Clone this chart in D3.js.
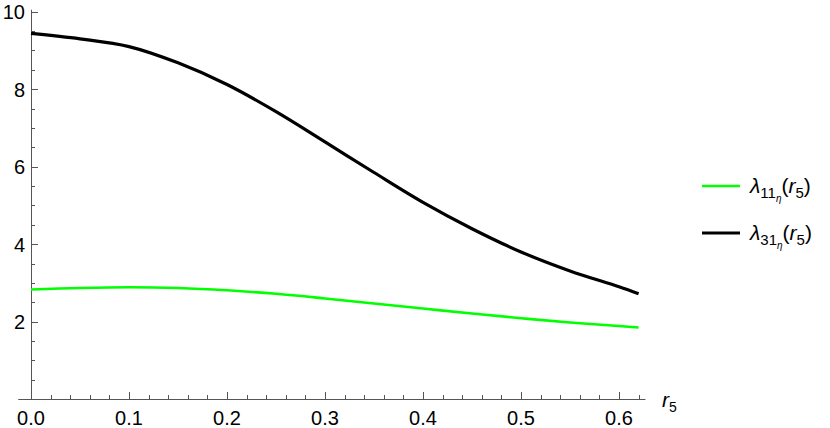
<!DOCTYPE html>
<html>
<head>
<meta charset="utf-8">
<script src="https://cdn.jsdelivr.net/npm/d3@7"></script>
<style>
  body { margin: 0; background: #fff; }
  text { font-family: "Liberation Sans", Arial, sans-serif; }
</style>
</head>
<body>
<svg id="chart" width="830" height="428"></svg>
<script>
// r5 sample points and the two curves
var r5 = [0, 0.05, 0.1, 0.15, 0.2, 0.25, 0.3, 0.35, 0.4, 0.45, 0.5, 0.55, 0.6, 0.62];
var lambda11 = [2.83, 2.87, 2.89, 2.87, 2.81, 2.72, 2.60, 2.47, 2.34, 2.21, 2.09, 1.98, 1.89, 1.85];
var lambda31 = [9.44, 9.30, 9.10, 8.68, 8.12, 7.42, 6.64, 5.85, 5.08, 4.40, 3.80, 3.31, 2.90, 2.72];

var xTicks = [0, 0.1, 0.2, 0.3, 0.4, 0.5, 0.6];
var xTickLabels = ['0.0', '0.1', '0.2', '0.3', '0.4', '0.5', '0.6'];
var yTicks = [2, 4, 6, 8, 10];
var yTickLabels = ['2', '4', '6', '8', '10'];

var seriesNames = ['11', '31'];
var seriesColors = ['#00ff00', '#000000'];
var seriesWidths = [2.6, 3.2];

var svg = d3.select('#chart');

var x = d3.scaleLinear().domain([0, 0.6]).range([31, 619]);
var y = d3.scaleLinear().domain([0, 10]).range([399.2, 11.7]);

var axisColor = '#555';
var fs = 20;

// axis lines
svg.append('line')
  .attr('x1', x(-0.013)).attr('x2', x(0.627))
  .attr('y1', Math.round(y(0)) + 0.5).attr('y2', Math.round(y(0)) + 0.5)
  .attr('stroke', axisColor).attr('stroke-width', 1);
svg.append('line')
  .attr('x1', Math.round(x(0)) + 0.5).attr('x2', Math.round(x(0)) + 0.5)
  .attr('y1', y(0)).attr('y2', y(10.05))
  .attr('stroke', axisColor).attr('stroke-width', 1);

// x ticks (minor every 0.02, inward)
var xMinor = d3.range(0, 0.6301, 0.02);
svg.selectAll('.xtick')
  .data(xMinor)
  .enter().append('line')
  .attr('class', 'xtick')
  .attr('x1', function(d) { return Math.round(x(d)) + 0.5; })
  .attr('x2', function(d) { return Math.round(x(d)) + 0.5; })
  .attr('y1', Math.round(y(0)))
  .attr('y2', function(d) {
    var major = Math.abs(d * 10 - Math.round(d * 10)) < 1e-6;
    return Math.round(y(0)) - (major ? 7 : 4);
  })
  .attr('stroke', axisColor).attr('stroke-width', 1);

svg.selectAll('.xlabel')
  .data(xTicks)
  .enter().append('text')
  .attr('class', 'xlabel')
  .attr('x', function(d) { return x(d); })
  .attr('y', 425)
  .attr('text-anchor', 'middle')
  .attr('font-size', fs)
  .text(function(d, i) { return xTickLabels[i]; });

// y ticks (minor every 0.5, inward)
var yMinor = d3.range(0.5, 10.01, 0.5);
svg.selectAll('.ytick')
  .data(yMinor)
  .enter().append('line')
  .attr('class', 'ytick')
  .attr('x1', Math.round(x(0)))
  .attr('x2', function(d) { return Math.round(x(0)) + (d % 2 === 0 ? 7 : 4); })
  .attr('y1', function(d) { return Math.round(y(d)) + 0.5; })
  .attr('y2', function(d) { return Math.round(y(d)) + 0.5; })
  .attr('stroke', axisColor).attr('stroke-width', 1);

svg.selectAll('.ylabel')
  .data(yTicks)
  .enter().append('text')
  .attr('class', 'ylabel')
  .attr('x', 25)
  .attr('y', function(d) { return y(d) + 7.5; })
  .attr('text-anchor', 'end')
  .attr('font-size', fs)
  .text(function(d, i) { return yTickLabels[i]; });

// axis label r5
var xl = svg.append('text')
  .attr('x', 662).attr('y', 407)
  .attr('font-size', fs + 1)
  .attr('font-style', 'italic');
xl.append('tspan').text('r');
xl.append('tspan').attr('font-size', 14).attr('font-style', 'normal').attr('dy', 5).text('5');

// curves
var line = d3.line()
  .x(function(d) { return x(d[0]); })
  .y(function(d) { return y(d[1]); })
  .curve(d3.curveCatmullRom.alpha(0.5));

[lambda11, lambda31].forEach(function(vals, i) {
  svg.append('path')
    .datum(r5.map(function(r, j) { return [r, vals[j]]; }))
    .attr('d', line)
    .attr('fill', 'none')
    .attr('stroke', seriesColors[i])
    .attr('stroke-width', seriesWidths[i]);
});

// legend
var legend = svg.append('g').attr('transform', 'translate(702, 186)');
seriesNames.forEach(function(name, i) {
  var g = legend.append('g').attr('transform', 'translate(0,' + (i * 47) + ')');
  g.append('line')
    .attr('x1', 0).attr('x2', 38).attr('y1', 0).attr('y2', 0)
    .attr('stroke', seriesColors[i]).attr('stroke-width', seriesWidths[i]);
  var t = g.append('text').attr('x', 48).attr('y', 7).attr('font-size', 21);
  t.append('tspan').attr('font-style', 'italic').text('\u03bb');
  t.append('tspan').attr('font-size', 15).attr('dy', 5).text(name);
  t.append('tspan').attr('font-size', 10).attr('font-style', 'italic').attr('dy', 4).text('\u03b7');
  t.append('tspan').attr('dy', -9).text('(');
  t.append('tspan').attr('font-style', 'italic').text('r');
  t.append('tspan').attr('font-size', 15).attr('dy', 5).text('5');
  t.append('tspan').attr('dy', -5).text(')');
});
</script>
</body>
</html>
